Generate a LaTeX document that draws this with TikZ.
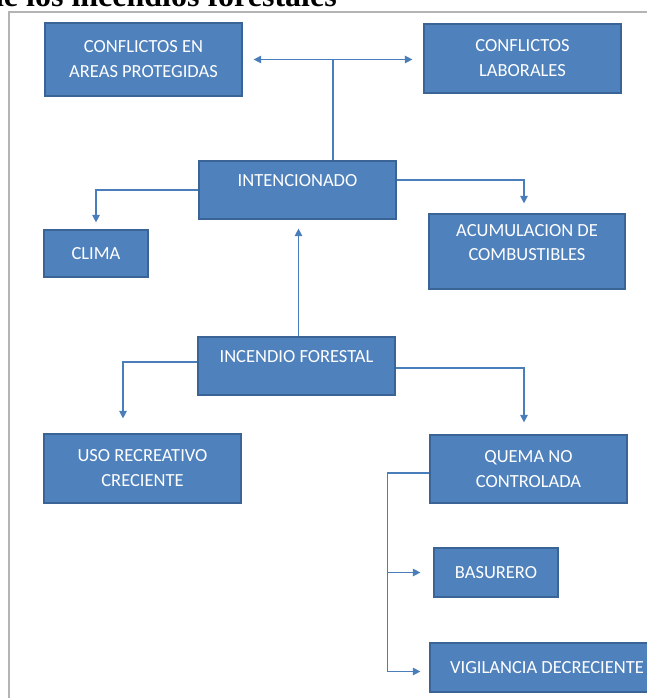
\documentclass[tikz,border=0pt]{standalone}
\usepackage{fontspec}
\setmainfont{Carlito}
\newfontfamily\titlefont{Liberation Serif}
\usetikzlibrary{arrows.meta,calc}
\definecolor{boxfill}{HTML}{4F81BD}
\definecolor{boxline}{HTML}{3A6496}
\definecolor{connc}{HTML}{4A7EBB}
\definecolor{framegray}{HTML}{B4B4B4}
\begin{document}
\begin{tikzpicture}[x=1pt,y=-1pt,
  cbox/.style={rectangle, draw=boxline, line width=1.2pt, fill=boxfill, text=white,
    inner sep=0pt, align=center, font=\fontsize{18.5}{25}\selectfont},
  connline/.style={draw=connc, line width=1.3pt},
  tip/.style={-{Triangle[length=7.5pt,width=7.5pt]}},
  bothtip/.style={{Triangle[length=7.5pt,width=7.5pt]}-{Triangle[length=7.5pt,width=7.5pt]}}]
\useasboundingbox (0,0) rectangle (647,698);
\clip (0,0) rectangle (647,698);
\draw[framegray, line width=1.6pt] (9,698) -- (9,12) -- (650,12);
\node[anchor=base west, font=\titlefont\bfseries\fontsize{32}{36}\selectfont, inner sep=0pt] (title) at (-14,7) {de los incendios forestales};

\node[cbox, minimum width=197pt, minimum height=73pt] (A) at (143.5,59.5) {CONFLICTOS EN\\AREAS PROTEGIDAS};
\node[cbox, minimum width=197pt, minimum height=69pt] (B) at (522.5,58.5) {CONFLICTOS\\LABORALES};
\node[cbox, minimum width=197pt, minimum height=58pt] (INT) at (297.5,190) {INTENCIONADO\\[-14pt]\strut};
\node[cbox, minimum width=104pt, minimum height=47pt] (CLIMA) at (96,253.5) {CLIMA};
\node[cbox, minimum width=196pt, minimum height=75pt] (ACUM) at (527,251.5) {ACUMULACION DE\\[-1pt]COMBUSTIBLES\\[-6pt]\mbox{}};
\node[cbox, minimum width=197pt, minimum height=58pt] (INC) at (296.5,366) {INCENDIO FORESTAL\\[-13pt]\strut};
\node[cbox, minimum width=197pt, minimum height=69pt] (USO) at (142.5,468.5) {USO RECREATIVO\\CRECIENTE};
\node[cbox, minimum width=197pt, minimum height=68pt] (QUEMA) at (528.5,469) {QUEMA NO\\CONTROLADA};
\node[cbox, minimum width=124pt, minimum height=49pt] (BAS) at (496,572.5) {BASURERO};
\node[cbox, minimum width=234pt, minimum height=49pt] (VIG) at (547,667.5) {VIGILANCIA DECRECIENTE};

\draw[connline, bothtip, shorten <=11pt, shorten >=11pt] (A.east) -- (A.east -| B.west);
\coordinate (j) at ($(A.east)!0.5!(B.west)$);
\draw[connline] (j) -- (j |- INT.north);
\draw[connline, tip, shorten >=7pt] (INT.west) -| (CLIMA.north);
\draw[connline, tip, shorten >=10pt] ([yshift=10pt]INT.east) -| ([xshift=-3pt]ACUM.north);
\coordinate (up0) at ([xshift=2pt]INC.north);
\draw[connline, tip, shorten >=9pt] (up0) -- (up0 |- INT.south);
\draw[connline, tip, shorten >=15pt] ([yshift=4pt]INC.west) -| ([xshift=-19.5pt]USO.north);
\draw[connline, tip, shorten >=12pt] ([yshift=-2pt]INC.east) -| ([xshift=-4.5pt]QUEMA.north);
\coordinate (qj) at ([xshift=-42pt,yshift=-4pt]QUEMA.west);
\draw[connline, tip, shorten >=9pt] ([yshift=-4pt]QUEMA.west) -- (qj) |- ([yshift=-4pt]VIG.west);
\draw[connline, tip, shorten >=13pt] (qj |- BAS.west) -- (BAS.west);
\end{tikzpicture}
\end{document}
